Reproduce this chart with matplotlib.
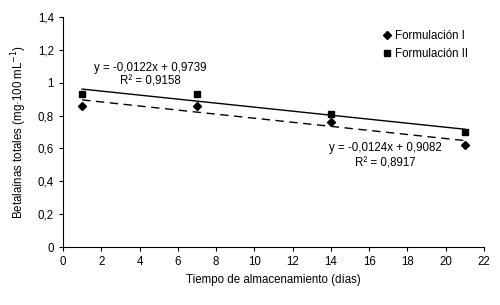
import numpy as np
import matplotlib
matplotlib.use("Agg")
import matplotlib.pyplot as plt
from matplotlib.ticker import FuncFormatter

plt.rcParams["font.family"] = ["Liberation Sans", "DejaVu Sans"]

dias = [1, 7, 14, 21]
form_1 = [0.86, 0.86, 0.76, 0.62]
form_2 = [0.93, 0.93, 0.81, 0.70]
x_ticks = list(range(0, 23, 2))
y_ticks = [0, 0.2, 0.4, 0.6, 0.8, 1.0, 1.2, 1.4]


def coma(v, pos=None):
    s = f"{v:g}"
    return s.replace(".", ",")


fig = plt.figure(figsize=(5.0, 3.05), dpi=100)
ax = fig.add_axes([0.126, 0.19, 0.842, 0.754])

x = np.array(dias)
for y, mk, ls, lab in [(form_1, "D", (0, (6, 4)), "Formulación I"),
                       (form_2, "s", "-", "Formulación II")]:
    ax.plot(x, y, linestyle="none", marker=mk, color="black",
            markersize=4.2 if mk == "D" else 5.0, label=lab)
    m, c = np.polyfit(x, y, 1)
    ax.plot(x[[0, -1]], m * x[[0, -1]] + c, color="black", lw=1.0, linestyle=ls)

fs = 8.3
ax.text(150 / 500, 1 - 68 / 305, "y = -0,0122x + 0,9739", transform=fig.transFigure,
        ha="center", va="center", fontsize=fs)
ax.text(150 / 500, 1 - 82 / 305, "R² = 0,9158", transform=fig.transFigure,
        ha="center", va="center", fontsize=fs)
ax.text(385 / 500, 1 - 148 / 305, "y = -0,0124x + 0,9082", transform=fig.transFigure,
        ha="center", va="center", fontsize=fs)
ax.text(385 / 500, 1 - 163 / 305, "R² = 0,8917", transform=fig.transFigure,
        ha="center", va="center", fontsize=fs)

ax.set_xlim(0, 22)
ax.set_ylim(0, 1.4)
ax.set_xticks(x_ticks)
ax.set_yticks(y_ticks)
ax.yaxis.set_major_formatter(FuncFormatter(coma))
ax.tick_params(labelsize=fs, length=3, width=0.8, direction="out")
ax.spines["top"].set_visible(False)
ax.spines["right"].set_visible(False)
ax.spines["left"].set_linewidth(0.8)
ax.spines["bottom"].set_linewidth(0.8)

ax.set_xlabel("Tiempo de almacenamiento (días)", fontsize=fs, labelpad=4)
ax.set_ylabel("Betalaínas totales (mg·100 mL$^{-1}$)", fontsize=fs, labelpad=6)

ax.legend(loc="upper left", bbox_to_anchor=(0.735, 0.99), frameon=False,
          fontsize=fs, handlelength=0.8, handletextpad=0.3, labelspacing=0.55)

fig.savefig("out.png", dpi=100)
